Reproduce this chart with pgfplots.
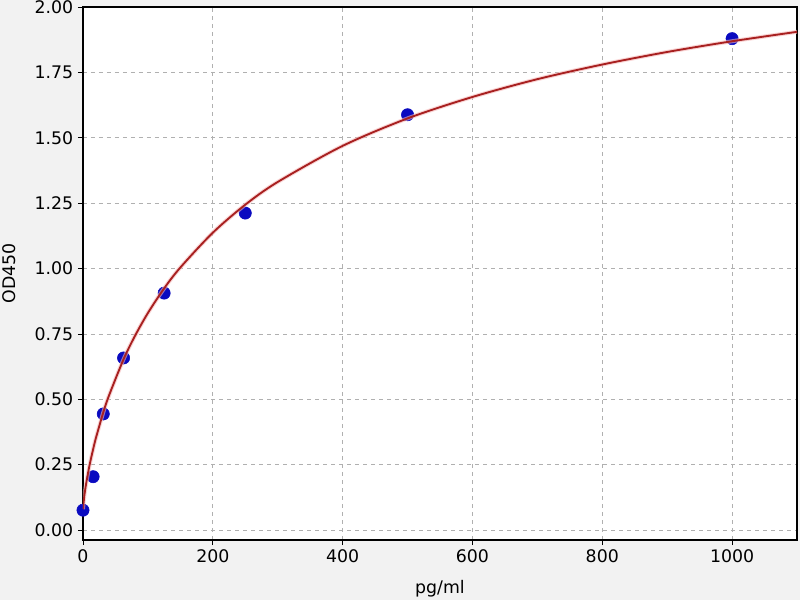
\documentclass[border=0pt]{standalone}
\usepackage{pgfplots}
\pgfplotsset{compat=1.18}
\usepackage{fontspec}
\setmainfont{DejaVu Sans}
\definecolor{figbg}{HTML}{F2F2F2}
\definecolor{dotblue}{HTML}{0A0AC0}
\definecolor{fitred}{HTML}{A82020}
\definecolor{halo}{HTML}{F6B8B8}
\definecolor{gridgray}{HTML}{B0B0B0}

\begin{document}
\begin{tikzpicture}[x=0.75pt,y=0.75pt]
    % figure background, 800 x 600 px with 1px = 0.75pt
    \path[use as bounding box, fill=figbg] (-83,-60) rectangle (717,540);
    \begin{axis}[
        at={(0,0)}, anchor=south west,
        scale only axis,
        width=535.5pt, height=399.75pt,
        clip mode=individual,
        xmin=0, xmax=1100,
        ymin=-0.038, ymax=2.0,
        xtick={0,200,400,600,800,1000},
        ytick={0,0.25,0.5,0.75,1.0,1.25,1.5,1.75,2.0},
        xticklabel style={/pgf/number format/.cd,1000 sep={}},
        yticklabel style={/pgf/number format/.cd,fixed,fixed zerofill,precision=2},
        /pgf/number format/assume math mode=true,
        scaled y ticks=false,
        tick align=outside,
        tick pos=left,
        major tick length=3.8pt,
        tick style={black, line width=0.6pt},
        grid=major,
        grid style={dashed, gridgray, line width=0.6pt},
        axis line style={black, line width=0.8pt},
        axis background/.style={fill=white},
        ticklabel style={font=\fontsize{13}{15}\selectfont},
        label style={font=\fontsize{13}{15}\selectfont},
        xlabel={pg/ml},
        ylabel={OD450},
        xlabel style={yshift=-6pt},
        ylabel style={yshift=7pt},
    ]
        \addplot[only marks, mark=*, mark size=4.6pt,
            mark options={fill=dotblue, draw=dotblue}]
            coordinates {
            (0,0.076)(15.6,0.204)(31.25,0.444)(62.5,0.658)
            (125,0.906)(250,1.212)(500,1.588)(1000,1.879)
        };
        \addplot[halo, line width=3pt, smooth, opacity=0.6] coordinates {
            (0,0.080)(2,0.130)(5,0.180)(10,0.247)(15.6,0.309)(20,0.353)
            (31.25,0.450)(40,0.514)(62.5,0.653)(80,0.742)(100,0.830)
            (125,0.924)(150,1.004)(200,1.137)(250,1.244)(300,1.331)
            (400,1.469)(500,1.574)(600,1.656)(700,1.724)(800,1.780)
            (900,1.828)(1000,1.869)(1100,1.905)
        };
        \addplot[fitred, line width=1.4pt, smooth] coordinates {
            (0,0.080)(2,0.130)(5,0.180)(10,0.247)(15.6,0.309)(20,0.353)
            (31.25,0.450)(40,0.514)(62.5,0.653)(80,0.742)(100,0.830)
            (125,0.924)(150,1.004)(200,1.137)(250,1.244)(300,1.331)
            (400,1.469)(500,1.574)(600,1.656)(700,1.724)(800,1.780)
            (900,1.828)(1000,1.869)(1100,1.905)
        };
    \end{axis}
\end{tikzpicture}
\end{document}
